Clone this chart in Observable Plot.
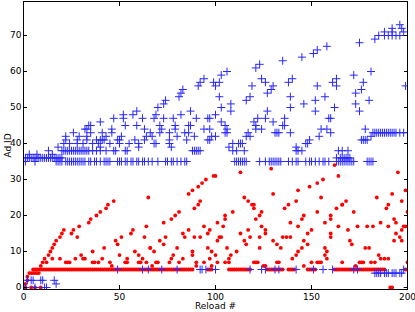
<!DOCTYPE html>
<html><head><meta charset="utf-8">
<script src="https://cdn.jsdelivr.net/npm/d3@7"></script>
<script src="https://cdn.jsdelivr.net/npm/@observablehq/plot@0.6"></script>
<style>
html,body{margin:0;padding:0;background:#fff;}
#chart svg{display:block;}
</style></head><body><div id="chart"></div>
<script>
const xTicks = [0, 50, 100, 150, 200];
const yTicks = [0, 10, 20, 30, 40, 50, 60, 70];
const xLabel = "Reload #";
const yLabel = "Ad ID";

// Reloads where red ad 5 appears
const red5 = [5,6,7,8,9,10,11,12,13,14,15,16,17,18,19,20,21,22,23,24,25,26,27,28,29,30,31,32,33,34,35,36,37,38,39,40,41,42,43,44,45,46,47,48,49,50,51,52,53,54,55,56,57,58,59,60,61,62,63,64,65,66,67,68,69,70,71,72,73,74,75,76,77,78,79,80,81,82,83,84,85,86,87,88,96,97,98,107,108,109,110,111,112,113,114,115,116,117,118,127,128,129,130,131,132,133,134,135,138,139,140,141,148,149,150,151,152,162,163,164,165,166,167,168,169,170,171,172,173,174,175,176,177,178,179,180,181,182,183,184,185,186,187,188,199,200];

// Other red points [reload, ad id]
const redPts = [
[0,0],[1,0],[1,1],[2,2],[2,3],[3,4],[4,4],[5,4],[6,4],[7,4],[8,4],[4,0],[6,0],[9,0],
[9,6],[10,7],[11,8],[13,9],[14,10],[15,11],[16,12],[17,13],[19,14],[20,15],[21,16],
[25,15],[26,16],[29,17],[28,14],[12,7],[15,8],[19,8],[22,7],[23,7],[24,7],[27,8],[30,9],[31,8],
[32,8],[34,18],[35,19],[38,20],[40,21],[43,22],[44,23],[47,24],[36,10],[42,11],[36,7],[37,7],[39,7],[41,8],[45,7],[46,6],[48,13],[49,12],[50,9],[51,14],[53,7],[54,7],[54,8],[56,15],[57,16],[58,10],[60,9],[60,7],[61,7],[62,8],[63,14],[64,17],[64,7],[65,25],[66,11],
[99,31],[95,30],[93,29],[91,28],[88,27],[86,26],[92,24],[91,23],[89,22],[81,21],[79,20],[77,19],[73,18],[97,16],[94,17],[96,15],[86,16],[83,15],[84,14],[92,14],[89,14],[74,14],[71,13],[73,12],[68,10],[80,11],[66,11],[96,11],[98,10],[78,9],[88,10],[88,9],[97,8],[77,8],[83,8],[76,7],[81,7],[90,7],[94,7],[67,6],[69,7],[70,7],[90,6],[98,6],
[100,31],[113,32],[129,33],[130,26],[115,25],[117,24],[119,23],[120,23],[120,22],[124,21],[123,20],[121,19],[109,21],[105,20],[105,19],[104,17],[101,18],[117,16],[113,15],[124,17],[126,16],[126,15],[102,14],[103,14],[101,13],[118,14],[123,14],[115,13],[116,12],[106,11],[130,13],[132,12],[123,11],[111,10],[108,9],[107,8],[100,9],[101,7],[105,7],[107,7],[120,7],[121,7],[122,7],[125,6],[126,6],[133,7],
[162,34],[164,31],[156,30],[153,29],[149,28],[143,27],[155,25],[142,24],[138,23],[136,22],[166,23],[163,22],[153,21],[146,20],[145,19],[139,18],[160,20],[160,19],[157,18],[164,17],[143,17],[150,16],[148,15],[146,13],[148,12],[160,15],[160,14],[134,11],[135,14],[137,14],[139,14],[145,11],[157,11],[158,10],[157,9],[158,8],[143,10],[142,9],[140,8],[150,7],[153,7],[154,7],[155,7],[146,6],[132,7],
[195,32],[199,27],[192,26],[184,25],[190,23],[189,22],[168,24],[166,23],[172,21],[197,24],[193,19],[186,18],[182,17],[194,18],[200,21],[197,16],[174,17],[179,17],[190,17],[170,13],[169,16],[171,12],[178,11],[180,11],[185,9],[186,8],[188,8],[190,8],[193,13],[197,13],[196,14],[198,17],[199,17],[194,15],[181,7],[183,7],[175,7],[176,7],[177,7],[173,6],[166,7],[200,7],[191,0],[192,0]
];

// Reloads where blue ads sit on flat rows
const blue35 = [0,1,6,17,18,19,20,22,23,24,25,26,27,28,29,30,31,32,34,35,37,38,40,42,43,44,45,49,50,51,53,54,56,57,59,60,62,63,65,67,70,74,75,77,78,80,82,84,85,110,111,112,113,114,115,116,123,126,128,129,130,131,132,133,134,138,140,142,143,147,149,150,152,154,156,157,159,163,164,165,166,167,168,169,170,171,172,179,180,181,182];
const blue36 = [1,2,3,4,5,6,7,8,9,10,11,12,13,14,15,16,17,18,19,20,163,165,166,167,168,169,170];
const blue38 = [13,20,21,22,23,24,25,26,27,28,29,30,31,32,33,34,36,38,40,43,47,48,53,54,88,89,90,91,92,109,111,115,142,143,145,164,166,169];
const blue43 = [182,183,184,185,186,187,188,189,190,191,192,193,194,196,198,200];
const blue5 = [49,62,65,72,80,92,93,95,100,118,124,126,131,133,142,151,156,161,172,174,198];
const blue4 = [183,184,185,186,188,189,190,192,193,194,196,197];

// Other blue points [reload, ad id]
const bluePts = [
[3,37],[7,37],[15,37],[1,0],[2,2],[4,2],[5,2],[6,0],[9,2],[10,2],[11,0],[12,0],[16,2],[17,1],[200,0],
[18,39],[21,40],[22,41],[22,42],[24,40],[26,43],[28,40],[28,41],[29,42],[31,40],[32,44],[33,41],[33,44],
[34,45],[35,45],[40,46],[47,47],[52,47],[57,48],[59,49],[62,47],[33,42],[35,43],[41,43],[46,44],[46,43],[53,45],[59,45],[63,44],[64,42],[38,41],[40,41],[41,41],[42,41],[45,40],[39,40],[40,39],[50,41],[51,42],[50,40],[55,40],[58,41],[60,40],[60,39],[63,41],[36,40],[43,42],[52,48],[49,41],
[94,58],[92,57],[91,56],[83,55],[82,54],[81,53],[74,52],[73,51],[70,50],[69,48],[68,47],[73,47],[78,47],[82,48],[87,49],[90,47],[96,47],[97,47],[99,57],[71,45],[79,45],[86,45],[87,45],[94,44],[97,44],[72,44],[79,44],[66,43],[67,42],[71,43],[76,43],[84,43],[86,43],[98,42],[76,41],[89,42],[80,42],[85,41],[96,41],[97,41],[76,40],[69,40],[68,40],[77,39],
[123,62],[121,61],[106,60],[103,59],[102,57],[100,56],[124,58],[126,57],[130,56],[129,55],[127,54],[119,56],[118,53],[116,52],[102,53],[103,50],[108,51],[108,49],[100,48],[127,49],[122,47],[126,47],[130,46],[103,46],[105,45],[106,44],[120,46],[121,45],[121,44],[124,44],[117,43],[118,42],[116,42],[100,42],[105,43],[106,43],[132,43],[131,43],[107,39],[109,40],[112,40],[113,40],[114,40],
[158,67],[153,66],[151,65],[145,64],[135,63],[140,58],[138,57],[153,56],[157,53],[152,52],[139,53],[146,51],[152,49],[139,50],[162,50],[161,57],[163,58],[163,56],[136,47],[159,47],[160,47],[135,45],[136,45],[155,44],[158,44],[154,42],[160,43],[139,43],[133,43],[149,41],[148,40],[147,40],[142,39],
[196,73],[197,72],[192,72],[188,71],[192,71],[185,70],[183,69],[188,70],[190,70],[192,70],[194,70],[196,70],[198,71],[175,68],[199,56],[172,59],[181,60],[177,57],[176,55],[173,54],[180,52],[173,51],[175,49],[178,44],[176,41],[177,41],[178,41],[179,41],[181,42]
];

const red = [
  ...red5.map(x => ({x, y: 5})),
  ...redPts.map(([x, y]) => ({x, y}))
];
const blue = [
  ...blue35.map(x => ({x, y: 35})),
  ...blue36.map(x => ({x, y: 36})),
  ...blue38.map(x => ({x, y: 38})),
  ...blue43.map(x => ({x, y: 43})),
  ...blue5.map(x => ({x, y: 5})),
  ...blue4.map(x => ({x, y: 4})),
  ...bluePts.map(([x, y]) => ({x, y}))
];

const chart = Plot.plot({
  width: 415,
  height: 312,
  marginLeft: 23,
  marginRight: 8,
  marginTop: 1,
  marginBottom: 23,
  style: {fontFamily: "DejaVu Sans", fontSize: "9px", background: "white", color: "black"},
  x: {domain: [0, 200]},
  y: {domain: [-0.55, 79.45]},
  marks: [
    Plot.dot(red, {x: "x", y: "y", r: 1.9, fill: "#ff0000", stroke: null, clip: true}),
    Plot.dot(blue, {x: "x", y: "y", symbol: "plus", r: 2.7, stroke: "#2828ff", strokeWidth: 1, clip: true}),
    Plot.frame({stroke: "black"}),
    Plot.axisX(xTicks, {anchor: "bottom", tickSize: -4, tickPadding: 8, label: null}),
    Plot.axisX(xTicks, {anchor: "top", tickSize: -4, tickFormat: () => "", label: null}),
    Plot.axisY(yTicks, {anchor: "left", tickSize: -4, tickPadding: 6, label: null}),
    Plot.axisY(yTicks, {anchor: "right", tickSize: -4, tickFormat: () => "", label: null}),
    Plot.text([xLabel], {text: d => d, frameAnchor: "bottom", dy: 17, lineAnchor: "middle", textAnchor: "middle", fontSize: 9}),
    Plot.text([yLabel], {text: d => d, frameAnchor: "left", dx: -15, rotate: -90, lineAnchor: "middle", textAnchor: "middle", fontSize: 9})
  ]
});
document.getElementById("chart").appendChild(chart);
</script>
</body></html>
